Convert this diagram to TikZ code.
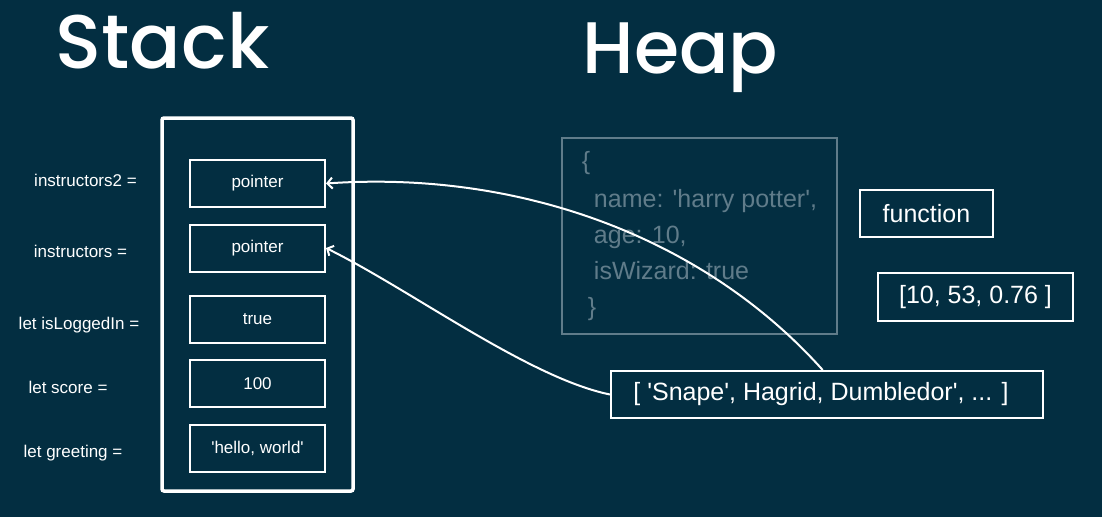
\documentclass[tikz,border=0pt]{standalone}
\usepackage{fontspec}
\setmainfont{Liberation Sans}
\newfontfamily\titlefont{Poppins Medium}
\usetikzlibrary{arrows.meta}
\definecolor{bgnavy}{RGB}{3,46,65}
\definecolor{heapgray}{RGB}{96,124,138}
\newcommand\sqt{\textquotesingle}
\tikzset{
  heading/.style={text=white, anchor=base, font=\titlefont\fontsize{76}{80}\selectfont},
  slot/.style={draw=white, line width=2pt, minimum width=135pt, minimum height=47pt,
    inner sep=0pt, text=white, font=\fontsize{17}{20}\selectfont},
  varlabel/.style={text=white, font=\fontsize{17}{20}\selectfont},
  heapbox/.style={draw=white, line width=2pt, inner sep=0pt, text=white,
    font=\fontsize{25}{30}\selectfont},
  ptrline/.style={white, line width=2pt, -{Straight Barb[length=5pt,width=11pt]}}
}
\begin{document}
\begin{tikzpicture}[x=1pt, y=-1pt]
  % Background
  \fill[bgnavy] (0,0) rectangle (1102,517);
  \useasboundingbox (0,0) rectangle (1102,517);
  % Titles
  \node[heading] (stacktitle) at (162.5,68) {Stack};
  \node[heading, font=\titlefont\fontsize{73}{78}\selectfont] (heaptitle) at (680.5,73) {Heap};
  % Stack frame
  \node[draw=white, line width=3.5pt, rounded corners=2pt, minimum width=191pt,
    minimum height=373pt] (stack) at (257.5,304.5) {};
  % Stack slots
  \node[slot] (ptrA) at (257.5,183.5) {pointer};
  \node[slot] (ptrB) at (257.5,248) {pointer};
  \node[slot] (flag) at (257.5,319.5) {true};
  \node[slot] (score) at (257.5,383.5) {100};
  \node[slot] (greet) at (257.5,448.5) {\sqt hello, world\sqt};
  % Variable names
  \node[varlabel] (lblA) at (85.5,180) {instructors2 =};
  \node[varlabel] (lblB) at (80.5,251) {instructors =};
  \node[varlabel] (lblflag) at (79,325) {let isLoggedIn =};
  \node[varlabel] (lblscore) at (68,387) {let score =};
  \node[varlabel] (lblgreet) at (73,453) {let greeting =};
  % Heap objects
  \node[heapbox, draw=heapgray, text=heapgray, minimum width=275pt, minimum height=196pt,
    align=left, font=\fontsize{25}{36}\selectfont] (obj) at (699.5,236)
    {\{\\[2pt]\hspace*{12pt}name: \sqt harry potter\sqt,\\\hspace*{12pt}age: 10,\\
     \hspace*{12pt}isWizard: true\\\hspace*{6pt}\}};
  \node[heapbox, minimum width=133pt, minimum height=47pt] (fn) at (926.5,213.5) {function};
  \node[heapbox, minimum width=195pt, minimum height=48pt] (nums) at (975.5,297) {[10, 53, 0.76 ]};
  \node[heapbox, minimum width=432pt, minimum height=47pt] (names) at (827,394.5)
    {[ \sqt Snape\sqt, Hagrid, Dumbledor\sqt, ... ]\hspace*{12pt}};
  % Pointers
  \draw[ptrline] (names.west) .. controls +(-81,-16.5) and +(85,42) .. (ptrB.east);
  \draw[ptrline] (names.100) .. controls +(-118,-132) and +(195,-13.5) .. (ptrA.east);
\end{tikzpicture}
\end{document}
